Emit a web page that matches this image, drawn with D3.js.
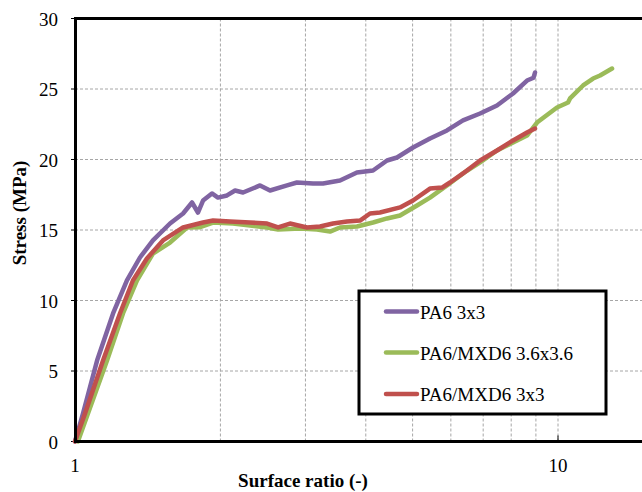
<!DOCTYPE html>
<html><head><meta charset="utf-8">
<script src="https://cdn.jsdelivr.net/npm/d3@7/dist/d3.min.js"></script>
</head><body style="margin:0"><svg id="c" width="642" height="492"></svg>
<script>
const seriesNames = ["PA6 3x3", "PA6/MXD6 3.6x3.6", "PA6/MXD6 3x3"];
const seriesColors = ["#8064A2", "#9BBB59", "#C0504D"];
const pa6_3x3 = [[1.000,0],[1.039,1.99],[1.111,5.74],[1.199,9.08],[1.281,11.42],[1.363,13.05],[1.450,14.26],[1.573,15.46],[1.674,16.17],[1.747,16.95],[1.797,16.24],[1.841,17.09],[1.921,17.59],[1.977,17.30],[2.064,17.45],[2.145,17.80],[2.228,17.66],[2.416,18.16],[2.534,17.80],[2.748,18.16],[2.881,18.37],[3.110,18.30],[3.262,18.30],[3.537,18.51],[3.835,19.08],[4.140,19.22],[4.426,19.93],[4.642,20.14],[5.010,20.85],[5.432,21.49],[5.891,22.06],[6.358,22.77],[6.897,23.26],[7.476,23.83],[8.070,24.68],[8.627,25.60],[8.900,25.80],[8.962,26.17]];
const mxd_36 = [[1.014,0],[1.165,5.74],[1.257,9.08],[1.344,11.42],[1.450,13.33],[1.573,14.11],[1.706,15.18],[1.815,15.20],[1.931,15.53],[2.124,15.46],[2.304,15.32],[2.498,15.18],[2.633,15.04],[2.923,15.11],[3.170,15.04],[3.373,14.89],[3.537,15.18],[3.835,15.25],[4.140,15.53],[4.426,15.82],[4.709,16.03],[5.107,16.74],[5.432,17.30],[5.891,18.16],[6.358,19.01],[6.897,19.79],[7.476,20.64],[8.070,21.21],[8.627,21.70],[9.048,22.62],[9.952,23.69],[10.49,24.04],[10.59,24.33],[11.27,25.25],[11.82,25.74],[12.22,25.96],[12.94,26.45]];
const mxd_3x3 = [[1.000,0],[1.049,1.99],[1.143,5.74],[1.239,9.08],[1.318,11.42],[1.409,12.98],[1.521,14.26],[1.674,15.18],[1.841,15.53],[1.931,15.67],[2.094,15.60],[2.304,15.53],[2.498,15.46],[2.633,15.18],[2.787,15.46],[3.022,15.18],[3.216,15.25],[3.421,15.46],[3.657,15.60],[3.891,15.67],[4.081,16.17],[4.280,16.24],[4.709,16.60],[5.010,17.09],[5.432,17.94],[5.752,18.01],[5.976,18.37],[6.358,19.01],[6.897,19.93],[7.476,20.64],[8.070,21.35],[8.627,21.91],[8.962,22.20]];
const yTicks = [0,5,10,15,20,25,30];
const xGrid = [2,3,4,5,6,7,8,9,10];
const xLabels = [1,10];
const xTitle = "Surface ratio (-)";
const yTitle = "Stress (MPa)";

const FONT = "'Times New Roman', 'Liberation Serif', Tinos, serif";
const svg = d3.select("#c");
const x = d3.scaleLog().domain([1,15]).range([75, 75+483*Math.log10(15)]);
const y = d3.scaleLinear().domain([0,30]).range([441.5, 18.5]);

svg.append("g").selectAll("line").data(yTicks.filter(d=>d>0&&d<30)).join("line")
  .attr("x1",75).attr("x2",642).attr("y1",d=>y(d)).attr("y2",d=>y(d))
  .attr("stroke","#a6a6a6").attr("stroke-width",1).attr("stroke-dasharray","3,2");
svg.append("g").selectAll("line").data(xGrid).join("line")
  .attr("x1",d=>x(d)).attr("x2",d=>x(d)).attr("y1",y(30)).attr("y2",y(0))
  .attr("stroke","#a6a6a6").attr("stroke-width",1).attr("stroke-dasharray","3,2");

// tick labels drawn manually from the scales
svg.append("g").selectAll("line").data(yTicks).join("line")
  .attr("x1",71).attr("x2",76).attr("y1",d=>y(d)).attr("y2",d=>y(d)).attr("stroke","#000");
svg.append("g").selectAll("text").data(yTicks).join("text")
  .attr("x",58).attr("y",d=>y(d)+7).attr("text-anchor","end")
  .style("font-family",FONT).style("font-size","19px").text(d=>d);
svg.append("g").selectAll("text").data(xLabels).join("text")
  .attr("x",d=>x(d)).attr("y",472).attr("text-anchor","middle")
  .style("font-family",FONT).style("font-size","19px").text(d=>d);
svg.append("line").attr("x1",x(10)).attr("x2",x(10)).attr("y1",y(0)).attr("y2",y(0)-6).attr("stroke","#000");

const line = d3.line().x(d=>x(d[0])).y(d=>y(d[1])).curve(d3.curveLinear);
const allSeries = [pa6_3x3, mxd_36, mxd_3x3];
allSeries.forEach((s,i)=>{
  svg.append("path").datum(s).attr("d",line).attr("fill","none")
    .attr("stroke",seriesColors[i]).attr("stroke-width",4.5)
    .attr("stroke-linejoin","round").attr("stroke-linecap","round");
});

svg.append("line").attr("x1",75.5).attr("x2",75.5).attr("y1",y(30)-1.5).attr("y2",y(0)+1.5).attr("stroke","#000").attr("stroke-width",3);
svg.append("line").attr("x1",74).attr("x2",642).attr("y1",y(30)).attr("y2",y(30)).attr("stroke","#000").attr("stroke-width",3);
svg.append("line").attr("x1",74).attr("x2",642).attr("y1",y(0)).attr("y2",y(0)).attr("stroke","#000").attr("stroke-width",3);

svg.append("text").attr("x",303).attr("y",487).attr("text-anchor","middle")
  .style("font-family",FONT).style("font-size","19px").style("font-weight","bold").text(xTitle);
svg.append("text").attr("transform","translate(26,213) rotate(-90)").attr("text-anchor","middle")
  .style("font-family",FONT).style("font-size","19px").style("font-weight","bold").text(yTitle);

const lg = svg.append("g");
lg.append("rect").attr("x",359).attr("y",291).attr("width",247).attr("height",123)
  .attr("fill","#fff").attr("stroke","#000").attr("stroke-width",3);
const ly = [311.5, 352.5, 394];
seriesNames.forEach((n,i)=>{
  lg.append("line").attr("x1",386).attr("x2",417).attr("y1",ly[i]).attr("y2",ly[i])
    .attr("stroke",seriesColors[i]).attr("stroke-width",4.5).attr("stroke-linecap","round");
  lg.append("text").attr("x",420).attr("y",ly[i]+7)
    .style("font-family",FONT).style("font-size","19px").text(n);
});
</script></body></html>
